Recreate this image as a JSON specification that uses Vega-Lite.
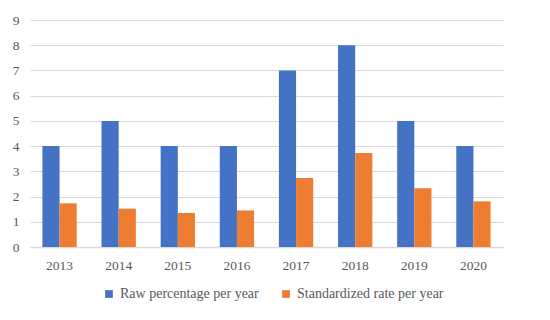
{
  "$schema": "https://vega.github.io/schema/vega-lite/v6.json",
  "autosize": {"type": "none"},
  "width": 473,
  "height": 227,
  "padding": {"left": 30, "top": 20, "right": 47, "bottom": 73},
  "background": "white",
  "data": {
    "values": [
      {"year": "2013", "series": "Raw percentage per year", "value": 4},
      {"year": "2013", "series": "Standardized rate per year", "value": 1.73},
      {"year": "2014", "series": "Raw percentage per year", "value": 5},
      {"year": "2014", "series": "Standardized rate per year", "value": 1.52},
      {"year": "2015", "series": "Raw percentage per year", "value": 4},
      {"year": "2015", "series": "Standardized rate per year", "value": 1.35},
      {"year": "2016", "series": "Raw percentage per year", "value": 4},
      {"year": "2016", "series": "Standardized rate per year", "value": 1.45},
      {"year": "2017", "series": "Raw percentage per year", "value": 7},
      {"year": "2017", "series": "Standardized rate per year", "value": 2.74},
      {"year": "2018", "series": "Raw percentage per year", "value": 8},
      {"year": "2018", "series": "Standardized rate per year", "value": 3.73},
      {"year": "2019", "series": "Raw percentage per year", "value": 5},
      {"year": "2019", "series": "Standardized rate per year", "value": 2.33},
      {"year": "2020", "series": "Raw percentage per year", "value": 4},
      {"year": "2020", "series": "Standardized rate per year", "value": 1.81}
    ]
  },
  "mark": {"type": "bar"},
  "encoding": {
    "x": {
      "field": "year", "type": "nominal", "title": null,
      "scale": {"paddingInner": 0.42, "paddingOuter": 0.21},
      "axis": {"labelAngle": 0, "ticks": false, "domainColor": "#d9d9d9", "domainWidth": 1.5, "labelPadding": 11, "labelFontSize": 13.5, "labelColor": "#595959", "labelFont": "Liberation Serif"}
    },
    "xOffset": {"field": "series", "type": "nominal", "sort": ["Raw percentage per year", "Standardized rate per year"]},
    "y": {
      "field": "value", "type": "quantitative", "title": null,
      "scale": {"domain": [0, 9], "nice": false},
      "axis": {"values": [0,1,2,3,4,5,6,7,8,9], "labelOverlap": false, "domain": false, "ticks": false, "gridColor": "#d9d9d9", "gridWidth": 1.2, "labelPadding": 11, "labelFontSize": 13.5, "labelColor": "#595959", "labelFont": "Liberation Serif"}
    },
    "color": {
      "field": "series", "type": "nominal",
      "scale": {"domain": ["Raw percentage per year", "Standardized rate per year"], "range": ["#4472C4", "#ED7D31"]},
      "legend": {
        "title": null, "orient": "none", "direction": "horizontal",
        "legendX": 72, "legendY": 267,
        "symbolType": "square", "symbolSize": 60, "symbolStrokeWidth": 0,
        "labelFontSize": 14, "labelColor": "#595959", "labelFont": "Liberation Serif",
        "columnPadding": 20, "labelOffset": 4
      }
    }
  },
  "config": {"view": {"stroke": null}}
}
